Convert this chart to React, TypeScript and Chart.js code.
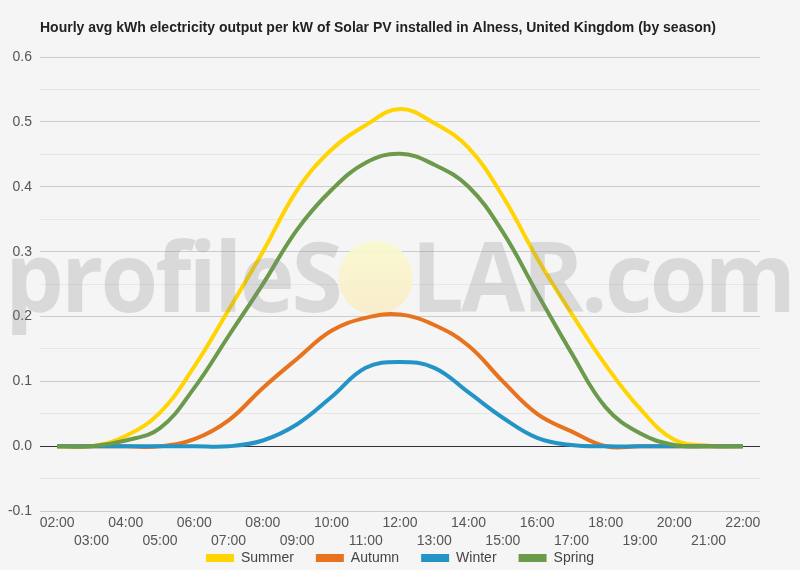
import React, { useRef, useEffect } from "react";
import { Chart, ChartConfiguration, Plugin, registerables } from "chart.js";

Chart.register(...registerables);

const TITLE =
  "Hourly avg kWh electricity output per kW of Solar PV installed in Alness, United Kingdom (by season)";

const hours = [
  "02:00", "03:00", "04:00", "05:00", "06:00", "07:00", "08:00",
  "09:00", "10:00", "11:00", "12:00", "13:00", "14:00", "15:00",
  "16:00", "17:00", "18:00", "19:00", "20:00", "21:00", "22:00",
];

// kWh per kW
const summer = [0, 0, 0.016, 0.052, 0.123, 0.21, 0.3, 0.395, 0.457, 0.495, 0.52, 0.498, 0.46, 0.385, 0.29, 0.205, 0.125, 0.058, 0.01, 0.001, 0];
const autumn = [0, 0, 0, 0, 0.011, 0.04, 0.09, 0.135, 0.178, 0.198, 0.203, 0.187, 0.155, 0.1, 0.05, 0.023, 0, 0, 0, 0, 0];
const winter = [0, 0, 0, 0, 0, 0, 0.009, 0.034, 0.076, 0.121, 0.13, 0.121, 0.083, 0.044, 0.013, 0.002, 0, 0, 0, 0, 0];
const spring = [0, 0, 0.009, 0.028, 0.09, 0.17, 0.25, 0.334, 0.395, 0.437, 0.451, 0.434, 0.4, 0.33, 0.236, 0.144, 0.06, 0.02, 0.002, 0, 0];

const seasons = ["Summer", "Autumn", "Winter", "Spring"];
const seasonValues = [summer, autumn, winter, spring];
const seasonColors = ["#ffd400", "#e8731f", "#2494c6", "#6b9a4b"];

const FONT = "'Liberation Sans', Arial, sans-serif";
const BG = "#f5f5f5";

// every other hour label goes on a second row
const xLabels = hours.map((h, i) => (i % 2 === 0 ? h : ["", h]));

const background: Plugin<"line"> = {
  id: "background",
  beforeDraw(chart) {
    const { ctx, width, height } = chart;
    ctx.save();
    ctx.fillStyle = BG;
    ctx.fillRect(0, 0, width, height);
    ctx.restore();
  },
};

const titlePlugin: Plugin<"line"> = {
  id: "leftTitle",
  afterDraw(chart) {
    const { ctx, chartArea } = chart;
    ctx.save();
    ctx.font = `bold 14px ${FONT}`;
    ctx.fillStyle = "#222";
    ctx.textBaseline = "middle";
    ctx.textAlign = "left";
    ctx.fillText(TITLE, chartArea.left, 28);
    ctx.restore();
  },
};

// legend sits a little higher than its box so the item gap can stay wide
const legendShift: Plugin<"line"> = {
  id: "legendShift",
  afterLayout(chart) {
    const legend = chart.legend;
    if (!legend) return;
    legend.top = chart.height - 41;
    legend.bottom = chart.height;
  },
};

const WM_FONT = "bold 96px 'Open Sans'";
const wmParts = ["profileS", "O", "LAR.com"];

const measureWm = (ctx: CanvasRenderingContext2D) => {
  ctx.font = WM_FONT;
  (ctx as any).letterSpacing = "-3px";
  const wl = ctx.measureText(wmParts[0]).width;
  const wo = ctx.measureText(wmParts[1]).width;
  const wr = ctx.measureText(wmParts[2]).width;
  return { wl, wo, sx: 788 / (wl + wo + wr) };
};

const watermark: Plugin<"line"> = {
  id: "watermark",
  beforeDatasetsDraw(chart) {
    const { ctx } = chart;
    ctx.save();
    const { wl, wo, sx } = measureWm(ctx);
    const cx = 5 + (wl + wo / 2) * sx;
    const cy = 278;
    const g = ctx.createLinearGradient(0, cy - 37, 0, cy + 37);
    g.addColorStop(0, "rgba(250,249,205,0.9)");
    g.addColorStop(1, "rgba(249,236,200,0.9)");
    ctx.fillStyle = g;
    ctx.beginPath();
    ctx.ellipse(cx, cy, 37, 37, 0, 0, Math.PI * 2);
    ctx.fill();
    ctx.restore();
  },
  afterDatasetsDraw(chart) {
    const { ctx } = chart;
    ctx.save();
    const { wl, wo, sx } = measureWm(ctx);
    ctx.translate(5, 312);
    ctx.scale(sx, 1);
    ctx.fillStyle = "rgba(140,140,140,0.26)";
    ctx.textBaseline = "alphabetic";
    ctx.textAlign = "left";
    ctx.fillText(wmParts[0], 0, 0);
    ctx.fillText(wmParts[2], wl + wo, 0);
    ctx.restore();
  },
};

const isMajor = (v: number) => Math.abs(v * 10 - Math.round(v * 10)) < 1e-6;

const App: React.FC = () => {
  const chartRef = useRef<HTMLCanvasElement>(null);

  useEffect(() => {
    if (!chartRef.current) return;

    const config: ChartConfiguration<"line"> = {
      type: "line",
      data: {
        labels: xLabels as any,
        datasets: seasons.map((name, i) => ({
          label: name,
          data: seasonValues[i],
          borderColor: seasonColors[i],
          backgroundColor: seasonColors[i],
          borderWidth: 4,
          pointRadius: 0,
          pointHoverRadius: 0,
          tension: 0.4,
          fill: false,
          order: seasons.length - 1 - i, // spring drawn on top
        })),
      },
      options: {
        animation: false,
        responsive: true,
        maintainAspectRatio: false,
        events: [],
        layout: { padding: { top: 57, left: 0, right: 0, bottom: 0 } },
        scales: {
          x: {
            offset: true,
            grid: { display: false, drawTicks: false },
            border: { display: false },
            ticks: {
              autoSkip: false,
              maxRotation: 0,
              padding: 2,
              color: "#555",
              font: { family: FONT, size: 14, lineHeight: 1.35 },
            },
          },
          y: {
            min: -0.1,
            max: 0.6,
            border: { display: false },
            grid: {
              drawTicks: false,
              color: (c) =>
                Math.abs(c.tick.value) < 1e-9 ? "#333" : isMajor(c.tick.value) ? "#cccccc" : "#e6e6e6",
            },
            ticks: {
              stepSize: 0.05,
              maxTicksLimit: 20,
              autoSkip: false,
              padding: 8,
              color: "#555",
              font: { family: FONT, size: 14 },
              callback: (v) => {
                const n = Number(v);
                if (!isMajor(n)) return "";
                return Math.abs(n) < 1e-9 ? "0.0" : n.toFixed(1);
              },
            },
            afterFit: (scale) => {
              scale.width = 40;
            },
          },
          yRight: {
            position: "right",
            display: true,
            grid: { display: false, drawTicks: false },
            border: { display: false },
            ticks: { display: false },
            afterFit: (scale) => {
              scale.width = 40;
            },
          },
        },
        plugins: {
          title: { display: false },
          tooltip: { enabled: false },
          legend: {
            position: "bottom",
            maxHeight: 17,
            labels: {
              boxWidth: 28,
              boxHeight: 8,
              padding: 22,
              color: "#444",
              font: { family: FONT, size: 14 },
              sort: (a, b) => (a.datasetIndex ?? 0) - (b.datasetIndex ?? 0),
              generateLabels: (chart) =>
                Chart.defaults.plugins.legend.labels
                  .generateLabels(chart)
                  .map((item) => ({ ...item, lineWidth: 0 })),
            },
          },
        },
      },
      plugins: [background, watermark, titlePlugin, legendShift],
    };

    const chartInstance = new Chart(chartRef.current, config);
    return () => {
      chartInstance.destroy();
    };
  }, []);

  return (
    <div
      style={{
        position: "fixed",
        left: 0,
        top: 0,
        width: 800,
        height: 570,
        background: BG,
      }}
    >
      <canvas ref={chartRef} />
    </div>
  );
};

export default App;
